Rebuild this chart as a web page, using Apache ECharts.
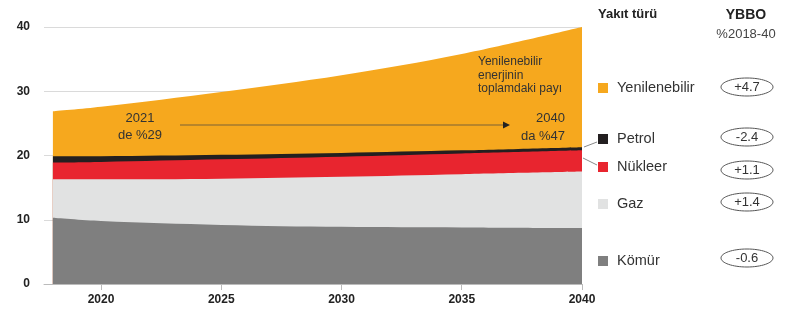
<!DOCTYPE html>
<html>
<head>
<meta charset="utf-8">
<script src="https://cdn.jsdelivr.net/npm/echarts@6/dist/echarts.min.js"></script>
<style>
  html, body { margin: 0; padding: 0; background: #fff; }
  #chart { width: 785px; height: 314px; }
</style>
</head>
<body>
<div id="chart"></div>
<script>
// yıllar ve yakıt türlerine göre değerler (okunan tahmini değerler)
const years = [2018, 2020, 2025, 2030, 2035, 2040];
const komur = [10.3, 9.8, 9.2, 8.9, 8.8, 8.7];
const gaz = [6.0, 6.5, 7.2, 7.8, 8.3, 8.8];
const nukleer = [2.6, 2.7, 3.0, 3.1, 3.2, 3.3];
const petrol = [1.0, 0.9, 0.7, 0.6, 0.5, 0.5];
const yenilenebilir = [7.0, 7.7, 9.8, 12.1, 15.0, 18.7];
const xTicks = [2020, 2025, 2030, 2035, 2040];

// legend satırları: isim, renk, YBBO
const legendNames = ['Yenilenebilir', 'Petrol', 'Nükleer', 'Gaz', 'Kömür'];
const legendColors = ['#F6A81E', '#231F20', '#E8252F', '#E1E2E2', '#7F7F7F'];
const ybbo = ['+4.7', '-2.4', '+1.1', '+1.4', '-0.6'];

const FONT = 'Liberation Sans';

// değer ekseninde stack çalışmadığı için kümülatif toplamları elle hesapla
const layers = [komur, gaz, nukleer, petrol, yenilenebilir];
let running = years.map(() => 0);
const cumulative = layers.map(arr => {
  running = running.map((v, i) => v + arr[i]);
  return running.slice();
});

function area(name, vals, color) {
  return {
    name: name,
    type: 'line',
    smooth: 0.35,
    showSymbol: false,
    symbol: 'none',
    lineStyle: { width: 0 },
    areaStyle: { color: color, opacity: 1, origin: 'start' },
    data: years.map((y, i) => [y, vals[i]]),
    silent: true
  };
}

let chart = echarts.init(document.getElementById('chart'));

// sağ taraftaki legend ve YBBO değerleri
const legendY = [88, 139, 167, 204, 261];
const ellipseY = [87, 137, 170, 202, 258];
let graphics = [];
legendNames.forEach((n, i) => {
  graphics.push({
    type: 'rect', left: 598, top: legendY[i] - 5,
    shape: { width: 10, height: 10 },
    style: { fill: legendColors[i] }
  });
  graphics.push({
    type: 'text', x: 617, y: legendY[i],
    style: { text: n, font: '14.5px ' + FONT, fill: '#333', verticalAlign: 'middle' }
  });
  graphics.push({
    type: 'ellipse',
    shape: { cx: 747, cy: ellipseY[i], rx: 26, ry: 9 },
    style: { fill: '#fff', stroke: '#555', lineWidth: 1 }
  });
  graphics.push({
    type: 'text', x: 747, y: ellipseY[i],
    style: { text: ybbo[i], font: '13px ' + FONT, fill: '#333', align: 'center', verticalAlign: 'middle' }
  });
});

graphics.push(
  { type: 'text', left: 598, top: 8, style: { text: 'Yakıt türü', font: 'bold 13px ' + FONT, fill: '#222' } },
  { type: 'text', x: 746, y: 15, style: { text: 'YBBO', font: 'bold 14px ' + FONT, fill: '#222', align: 'center', verticalAlign: 'middle' } },
  { type: 'text', x: 746, y: 34, style: { text: '%2018-40', font: '13px ' + FONT, fill: '#444', align: 'center', verticalAlign: 'middle' } },
  // petrol ve nükleer bağlantı çizgileri
  { type: 'line', shape: { x1: 584, y1: 147, x2: 597, y2: 142 }, style: { stroke: '#888', lineWidth: 1 } },
  { type: 'line', shape: { x1: 583, y1: 158, x2: 597, y2: 165 }, style: { stroke: '#888', lineWidth: 1 } },
  // grafik içi notlar
  { type: 'text', x: 140, y: 118, style: { text: '2021', font: '13px ' + FONT, fill: '#333', align: 'center', verticalAlign: 'middle' } },
  { type: 'text', x: 140, y: 135, style: { text: 'de %29', font: '13px ' + FONT, fill: '#333', align: 'center', verticalAlign: 'middle' } },
  { type: 'line', shape: { x1: 180, y1: 125, x2: 505, y2: 125 }, style: { stroke: '#7A6236', lineWidth: 1 } },
  { type: 'polygon', shape: { points: [[510, 125], [503, 121.5], [503, 128.5]] }, style: { fill: '#222' } },
  { type: 'text', x: 565, y: 118, style: { text: '2040', font: '13px ' + FONT, fill: '#333', align: 'right', verticalAlign: 'middle' } },
  { type: 'text', x: 565, y: 136, style: { text: 'da %47', font: '13px ' + FONT, fill: '#333', align: 'right', verticalAlign: 'middle' } },
  { type: 'text', x: 478, y: 62, style: { text: 'Yenilenebilir', font: '12px ' + FONT, fill: '#333', verticalAlign: 'middle' } },
  { type: 'text', x: 478, y: 76, style: { text: 'enerjinin', font: '12px ' + FONT, fill: '#333', verticalAlign: 'middle' } },
  { type: 'text', x: 478, y: 89, style: { text: 'toplamdaki payı', font: '12px ' + FONT, fill: '#333', verticalAlign: 'middle' } }
);
graphics.forEach(g => { g.z = 100; g.silent = true; });

chart.setOption({
  animation: false,
  textStyle: { fontFamily: FONT },
  grid: { left: 44, right: 203, top: 27, bottom: 30, containLabel: false },
  xAxis: {
    type: 'value',
    min: 2017.63,
    max: 2040,
    splitLine: { show: false },
    axisLine: { show: true, lineStyle: { color: '#bbb', width: 1 } },
    axisTick: { show: true, customValues: xTicks, length: 6, lineStyle: { color: '#bbb' } },
    axisLabel: {
      customValues: xTicks,
      formatter: v => String(v),
      margin: 10, fontSize: 12, fontWeight: 'bold', color: '#222'
    }
  },
  yAxis: {
    type: 'value',
    min: 0,
    max: 40,
    interval: 10,
    axisLine: { show: false },
    axisTick: { show: false },
    splitLine: { show: true, lineStyle: { color: '#dadada', width: 1 } },
    axisLabel: { margin: 14, fontSize: 12, fontWeight: 'bold', color: '#222' }
  },
  // üstten alta çiz: alttaki katmanlar sonradan çizilip üste gelir
  series: [
    area('Yenilenebilir', cumulative[4], legendColors[0]),
    area('Petrol', cumulative[3], legendColors[1]),
    area('Nükleer', cumulative[2], legendColors[2]),
    area('Gaz', cumulative[1], legendColors[3]),
    area('Kömür', cumulative[0], legendColors[4])
  ],
  graphic: graphics
});
</script>
</body>
</html>
